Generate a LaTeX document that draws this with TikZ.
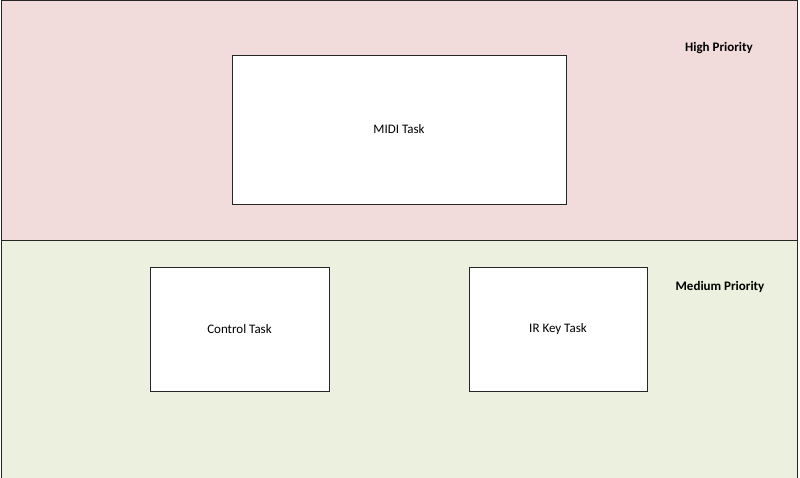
\documentclass[tikz,border=0pt]{standalone}
\usepackage{fontspec}
\setmainfont{Carlito}
\definecolor{highband}{HTML}{F2DCDB}
\definecolor{mediumband}{HTML}{EBF1DE}
\tikzset{
  task/.style={draw=black!85,fill=white,line width=0.8pt,inner sep=0pt,font=\fontsize{13}{15}\selectfont},
  band/.style={draw=black!85,line width=1pt},
  prio/.style={font=\bfseries\fontsize{13}{15}\selectfont}
}
\begin{document}
\begin{tikzpicture}[x=1pt,y=-1pt]
      \useasboundingbox (0,0) rectangle (800,477);
      % Bands: priorities
      \draw[band,fill=highband] (1,0.5) rectangle (797,240);
      \draw[band,fill=mediumband] (1,240) rectangle (797,480);
      \node[prio] (High) at (719,48) {High Priority};
      \node[prio] (Medium) at (720,287) {Medium Priority};
      % Nodes: tasks
      \node[task,minimum width=334pt,minimum height=149pt] (MIDI) at (399,129.5) {MIDI Task};
      \node[task,minimum width=179pt,minimum height=124pt] (Control) at (239.5,329) {Control Task};
      \node[task,minimum width=178pt,minimum height=124pt] (IRKey) at (558,329) {IR Key Task};
    \end{tikzpicture}
\end{document}
